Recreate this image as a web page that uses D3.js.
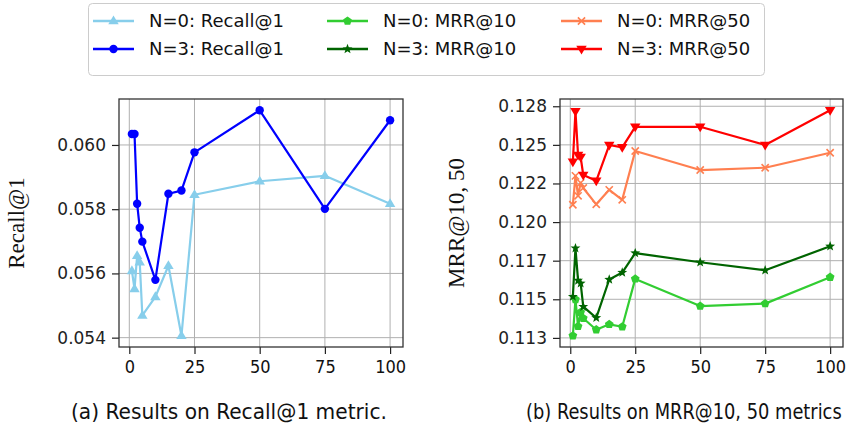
<!DOCTYPE html>
<html><head><meta charset="utf-8">
<script src="https://cdn.jsdelivr.net/npm/d3@7"></script>
<style>body{margin:0;background:#fff}svg{display:block}</style>
</head><body>
<svg id="c" width="849" height="433"></svg>
<script>
const xValues = [1, 2, 3, 4, 5, 10, 15, 20, 25, 50, 75, 100];
const recallN0 = [0.05608, 0.05552, 0.05655, 0.05635, 0.05469, 0.05527, 0.05624, 0.05406, 0.05845, 0.05887, 0.05904, 0.05817];
const recallN3 = [0.06034, 0.06034, 0.05817, 0.05742, 0.05699, 0.05580, 0.05848, 0.05858, 0.05977, 0.06108, 0.05801, 0.06077];
const mrr10N0 = [0.11264, 0.11499, 0.11325, 0.11416, 0.11377, 0.11303, 0.11338, 0.11322, 0.11632, 0.11456, 0.11472, 0.11643];
const mrr10N3 = [0.11517, 0.11831, 0.11622, 0.11603, 0.11452, 0.11380, 0.11628, 0.11673, 0.11799, 0.11740, 0.11688, 0.11843];
const mrr50N0 = [0.12112, 0.12299, 0.12170, 0.12254, 0.12221, 0.12115, 0.12209, 0.12144, 0.12460, 0.12337, 0.12352, 0.12449];
const mrr50N3 = [0.12391, 0.12718, 0.12434, 0.12421, 0.12305, 0.12267, 0.12499, 0.12484, 0.12617, 0.12617, 0.12499, 0.12724];
const xTicks = [0, 25, 50, 75, 100];
const leftYTicks = [0.054, 0.056, 0.058, 0.060];
const leftYLabels = ["0.054", "0.056", "0.058", "0.060"];
const rightYTicks = [0.1125, 0.115, 0.1175, 0.12, 0.1225, 0.125, 0.1275];
const rightYLabels = ["0.113", "0.115", "0.117", "0.120", "0.122", "0.125", "0.128"];
const legendLabels = ["N=0: Recall@1", "N=3: Recall@1", "N=0: MRR@10", "N=3: MRR@10", "N=0: MRR@50", "N=3: MRR@50"];
const captions = ["(a) Results on Recall@1 metric.", "(b) Results on MRR@10, 50 metrics"];

const svg = d3.select("#c");
const TICKFONT = "'DejaVu Sans', sans-serif";
const NARROW = "'DejaVu Sans Condensed', 'Open Sans', sans-serif";

function pentagon(r){
  const pts=[];for(let i=0;i<5;i++){const a=-Math.PI/2+i*2*Math.PI/5;pts.push([r*Math.cos(a),r*Math.sin(a)]);}
  return "M"+pts.map(p=>p.join(",")).join("L")+"Z";
}
function star(r){
  const pts=[];for(let i=0;i<10;i++){const a=-Math.PI/2+i*Math.PI/5;const rr=i%2?r*0.42:r;pts.push([rr*Math.cos(a),rr*Math.sin(a)]);}
  return "M"+pts.map(p=>p.join(",")).join("L")+"Z";
}
function triUp(r){return `M0,${-r}L${r*0.95},${r*0.6}L${-r*0.95},${r*0.6}Z`;}
function triDown(r){return `M0,${r}L${r*0.95},${-r*0.6}L${-r*0.95},${-r*0.6}Z`;}
function xMark(r){return `M${-r},${-r}L${r},${r}M${-r},${r}L${r},${-r}`;}

const series = {
  r0:{vals:recallN0,color:"#87CEEB",marker:"triUp"},
  r3:{vals:recallN3,color:"#0000FF",marker:"circle"},
  m10_0:{vals:mrr10N0,color:"#32CD32",marker:"pent"},
  m10_3:{vals:mrr10N3,color:"#006400",marker:"star"},
  m50_0:{vals:mrr50N0,color:"#FF7F50",marker:"x"},
  m50_3:{vals:mrr50N3,color:"#FF0000",marker:"triDown"}
};

function drawMarker(g,type,color,x,y){
  const t=`translate(${x},${y})`;
  if(type==="circle") g.append("circle").attr("cx",x).attr("cy",y).attr("r",4.2).attr("fill",color);
  else if(type==="triUp") g.append("path").attr("d",triUp(5.5)).attr("transform",t).attr("fill",color);
  else if(type==="triDown") g.append("path").attr("d",triDown(5.5)).attr("transform",t).attr("fill",color);
  else if(type==="pent") g.append("path").attr("d",pentagon(4.6)).attr("transform",t).attr("fill",color);
  else if(type==="star") g.append("path").attr("d",star(5.2)).attr("transform",t).attr("fill",color);
  else if(type==="x") g.append("path").attr("d",xMark(3.6)).attr("transform",t).attr("fill","none").attr("stroke",color).attr("stroke-width",1.6);
}

function padDomain(vals){
  const mn=d3.min(vals),mx=d3.max(vals),p=(mx-mn)*0.05;return [mn-p,mx+p];
}

function panel(box, keys, yTicks, yLabels, yTitle, yTitleX){
  const g=svg.append("g");
  const xs=d3.scaleLinear().domain(padDomain(xValues)).range([box.x0,box.x1]);
  const all=[].concat(...keys.map(k=>series[k].vals));
  const ys=d3.scaleLinear().domain(padDomain(all)).range([box.y1,box.y0]);
  g.selectAll(".gx").data(xTicks).enter().append("line")
    .attr("x1",d=>xs(d)).attr("x2",d=>xs(d)).attr("y1",box.y0).attr("y2",box.y1)
    .attr("stroke","#b0b0b0").attr("stroke-width",1);
  g.selectAll(".gy").data(yTicks).enter().append("line")
    .attr("y1",d=>ys(d)).attr("y2",d=>ys(d)).attr("x1",box.x0).attr("x2",box.x1)
    .attr("stroke","#b0b0b0").attr("stroke-width",1);
  const xa=g.append("g").attr("transform",`translate(0,${box.y1})`)
    .call(d3.axisBottom(xs).tickValues(xTicks).tickSize(7).tickSizeOuter(0));
  xa.select(".domain").remove();
  xa.selectAll("text").attr("font-family",NARROW).attr("font-size",18).attr("fill","#111").attr("y",12).attr("dy","0.8em");
  const ya=g.append("g").attr("transform",`translate(${box.x0},0)`)
    .call(d3.axisLeft(ys).tickValues(yTicks).tickFormat((d,i)=>yLabels[i]).tickSize(7).tickSizeOuter(0));
  ya.select(".domain").remove();
  ya.selectAll("text").attr("font-family",TICKFONT).attr("font-size",17).attr("fill","#222").attr("x",-13);
  g.selectAll(".tick line").attr("stroke","#222").attr("stroke-width",1.2);
  const line=d3.line().x((d,i)=>xs(xValues[i])).y(d=>ys(d));
  keys.forEach(k=>{
    const s=series[k];
    g.append("path").datum(s.vals).attr("d",line).attr("fill","none").attr("stroke",s.color).attr("stroke-width",2.2).attr("stroke-linejoin","round");
    s.vals.forEach((v,i)=>drawMarker(g,s.marker,s.color,xs(xValues[i]),ys(v)));
  });
  g.append("rect").attr("x",box.x0).attr("y",box.y0).attr("width",box.x1-box.x0).attr("height",box.y1-box.y0)
    .attr("fill","none").attr("stroke","#333").attr("stroke-width",1.3);
  g.append("text").attr("transform",`translate(${yTitleX},${(box.y0+box.y1)/2}) rotate(-90)`)
    .attr("text-anchor","middle").attr("font-family","'Liberation Serif', 'DejaVu Serif', serif")
    .attr("font-size",23).attr("fill","#111").text(yTitle);
}

panel({x0:119,x1:403,y0:99,y1:347},["r0","r3"],leftYTicks,leftYLabels,"Recall@1",24);
panel({x0:560,x1:843,y0:99,y1:347},["m10_0","m10_3","m50_0","m50_3"],rightYTicks,rightYLabels,"MRR@10, 50",464);

const lg=svg.append("g");
lg.append("rect").attr("x",88.5).attr("y",3.5).attr("width",676).attr("height",72).attr("rx",4)
  .attr("fill","#fff").attr("stroke","#cccccc").attr("stroke-width",1);
const legendKeys=["r0","r3","m10_0","m10_3","m50_0","m50_3"];
const colX=[93,327,561];
const rowY=[21,49];
legendKeys.forEach((k,i)=>{
  const c=Math.floor(i/2),r=i%2;const s=series[k];
  const x0=colX[c],y=rowY[r];
  lg.append("line").attr("x1",x0).attr("x2",x0+41).attr("y1",y).attr("y2",y).attr("stroke",s.color).attr("stroke-width",2.6);
  drawMarker(lg,s.marker,s.color,x0+20.5,y);
  lg.append("text").attr("x",x0+56).attr("y",y).attr("dy","0.36em").attr("font-family",TICKFONT)
    .attr("font-size",18).attr("fill","#111").text(legendLabels[i]);
});

// captions: fit font size to target width, then stretch vertically to keep the glyph height
const CAP="'DejaVu Sans Condensed', 'Open Sans', sans-serif";
const capBox=[{x:71,w:316},{x:526,w:316}];
captions.forEach((txt,i)=>{
  const baseFs=21, y=419;
  const g=svg.append("g");
  const t=g.append("text").attr("x",0).attr("y",0).attr("font-family",CAP).attr("font-size",baseFs).attr("fill","#111").text(txt);
  const w=t.node().getComputedTextLength();
  const fs=baseFs*capBox[i].w/w;
  t.attr("font-size",fs);
  const sy=Math.min(1.25, baseFs/fs);
  g.attr("transform",`translate(${capBox[i].x},${y}) scale(1,${sy})`);
});
</script>
</body></html>
